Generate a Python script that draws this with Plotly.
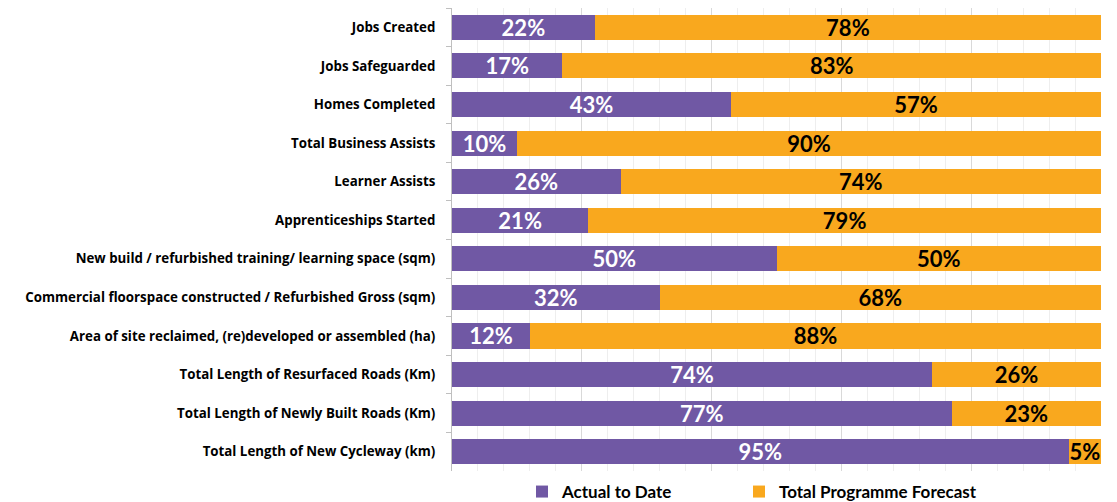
import plotly.graph_objects as go

categories = [
    "Jobs Created",
    "Jobs Safeguarded",
    "Homes Completed",
    "Total Business Assists",
    "Learner Assists",
    "Apprenticeships Started",
    "New build / refurbished training/ learning space (sqm)",
    "Commercial floorspace constructed / Refurbished Gross (sqm)",
    "Area of site reclaimed, (re)developed or assembled (ha)",
    "Total Length of Resurfaced Roads (Km)",
    "Total Length of Newly Built Roads (Km)",
    "Total Length of New Cycleway (km)",
]
actual = [22, 17, 43, 10, 26, 21, 50, 32, 12, 74, 77, 95]
forecast = [78, 83, 57, 90, 74, 79, 50, 68, 88, 26, 23, 5]

PURPLE = "#7058A4"
ORANGE = "#F9A81E"
FONT = "Lato"
LABEL_FONT = "Open Sans"

fig = go.Figure()
fig.add_trace(go.Bar(
    y=categories, x=actual, orientation="h", name="Actual to Date",
    marker=dict(color=PURPLE, line=dict(width=0)),
    text=[f"{v}%" for v in actual], textposition="inside", insidetextanchor="middle",
    textfont=dict(color="white", size=22, family=FONT, weight="bold"),
    legend="legend",
))
fig.add_trace(go.Bar(
    y=categories, x=forecast, orientation="h", name="Total Programme Forecast",
    marker=dict(color=ORANGE, line=dict(width=0)),
    text=[f"{v}%" for v in forecast], textposition="inside", insidetextanchor="middle",
    textfont=dict(color="black", size=22, family=FONT, weight="bold"),
    legend="legend2",
))

L, W, H = 444, 649, 494
leg_common = dict(
    orientation="h", xanchor="left", yref="container", y=(H - 484) / H, yanchor="middle",
    font=dict(size=17, family=FONT, weight="bold"), itemwidth=30,
    bgcolor="rgba(0,0,0,0)",
)
fig.update_layout(
    barmode="stack",
    bargap=0.35,
    width=1109, height=H,
    margin=dict(l=L, r=16, t=0, b=31, autoexpand=False),
    paper_bgcolor="white", plot_bgcolor="white",
    font=dict(family=FONT, color="black"),
    uniformtext=dict(minsize=22, mode="show"),
    legend=dict(x=(537 - 15 - 8 - L) / W, **leg_common),
    legend2=dict(x=(754 - 15 - 8 - L) / W, **leg_common),
    showlegend=True,
)
fig.update_xaxes(
    range=[0, 100], showticklabels=False, showgrid=True, dtick=20,
    gridcolor="#d9d9d9", gridwidth=1, zeroline=False,
    minor=dict(dtick=4, showgrid=True, gridcolor="#eeeeee", gridwidth=1),
    fixedrange=True,
)
fig.update_yaxes(
    autorange="reversed", showline=True, linecolor="#bfbfbf", linewidth=1,
    ticks="outside", tickson="boundaries", ticklen=5, tickcolor="#bfbfbf",
    tickfont=dict(size=13.3, family=LABEL_FONT, weight="bold", color="black"),
    ticklabelstandoff=13,
)

fig.write_html("out.html")
